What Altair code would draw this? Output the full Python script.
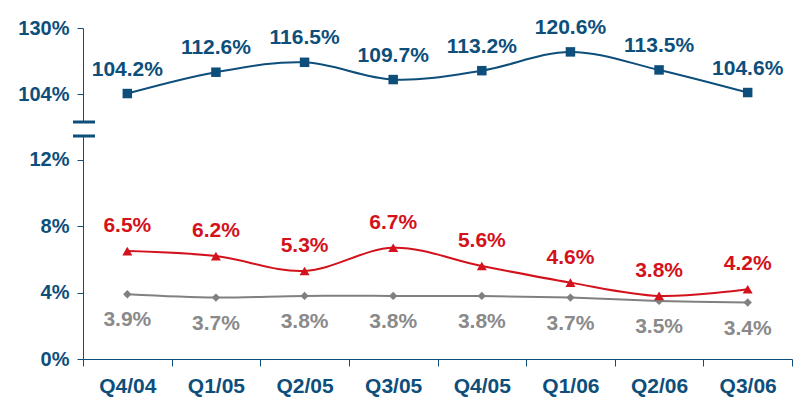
import altair as alt
import pandas as pd

quarters = ["Q4/04", "Q1/05", "Q2/05", "Q3/05", "Q4/05", "Q1/06", "Q2/06", "Q3/06"]
combined_ratio = [104.2, 112.6, 116.5, 109.7, 113.2, 120.6, 113.5, 104.6]
loss_ratio = [6.5, 6.2, 5.3, 6.7, 5.6, 4.6, 3.8, 4.2]
expense_ratio = [3.9, 3.7, 3.8, 3.8, 3.8, 3.7, 3.5, 3.4]
top_ticks = [104, 130]
bottom_ticks = [0, 4, 8, 12]

BLUE = "#0d4e7b"
RED = "#d3121c"
GRAY = "#8a8a8a"
GRAY_LINE = "#808080"
FONT = "Liberation Sans"
W = 709
H_TOP = 94
H_BOT = 223

top_df = pd.DataFrame({"q": quarters, "v": combined_ratio})
red_df = pd.DataFrame({"q": quarters, "v": loss_ratio})
gray_df = pd.DataFrame({"q": quarters, "v": expense_ratio})
one = pd.DataFrame({"d": [0]})

xscale = alt.Scale(type="band", domain=quarters, paddingInner=0, paddingOuter=0)
LAB = "format(datum.v, '.1f') + '%'"


def yaxis(vals):
    return alt.Axis(values=vals, labelExpr="datum.value + '%'", title=None,
                    labelFontSize=20, labelFont=FONT, labelFontWeight="bold",
                    labelColor=BLUE, domainColor=BLUE, tickColor=BLUE,
                    tickSize=6, labelPadding=8, minExtent=66, maxExtent=66, grid=False)


# Top panel (combined ratio)
tb = alt.Chart(top_df).transform_calculate(lab=LAB).encode(
    x=alt.X("q:N", scale=xscale, axis=None, sort=quarters),
    y=alt.Y("v:Q", scale=alt.Scale(domain=[93, 130], zero=False, nice=False), axis=yaxis(top_ticks)),
)
top = alt.layer(
    tb.mark_line(color=BLUE, strokeWidth=2, interpolate="cardinal"),
    tb.mark_point(shape="square", filled=True, size=90, color=BLUE, opacity=1),
    tb.mark_text(dy=-24, fontSize=21, fontWeight="bold", font=FONT, color=BLUE).encode(text="lab:N"),
    alt.Chart(one).mark_rule(color=BLUE, strokeWidth=3).encode(
        x=alt.value(-10), x2=alt.value(12), y=alt.value(H_TOP)),
).properties(width=W, height=H_TOP)

# Bottom panel
xaxis = alt.Axis(title=None, labelFontSize=21, labelFont=FONT, labelFontWeight="bold",
                 labelColor=BLUE, domainColor=BLUE, tickColor=BLUE, tickSize=7,
                 tickBand="extent", labelPadding=9, labelAngle=0)
yb = alt.Y("v:Q", scale=alt.Scale(domain=[0, 13.43], nice=False), axis=yaxis(bottom_ticks))

rb = alt.Chart(red_df).transform_calculate(lab=LAB).encode(
    x=alt.X("q:N", scale=xscale, axis=xaxis, sort=quarters), y=yb)
gb = alt.Chart(gray_df).transform_calculate(lab=LAB).encode(
    x=alt.X("q:N", scale=xscale, axis=xaxis, sort=quarters), y=yb)

bottom = alt.layer(
    gb.mark_line(color=GRAY_LINE, strokeWidth=2, interpolate="cardinal"),
    gb.mark_point(shape="diamond", filled=True, size=70, color=GRAY_LINE, opacity=1),
    gb.mark_text(dy=26, fontSize=21, fontWeight="bold", font=FONT, color=GRAY).encode(text="lab:N"),
    rb.mark_line(color=RED, strokeWidth=2, interpolate="cardinal"),
    rb.mark_point(shape="triangle-up", filled=True, size=100, color=RED, opacity=1),
    rb.mark_text(dy=-25, fontSize=21, fontWeight="bold", font=FONT, color=RED).encode(text="lab:N"),
    alt.Chart(one).mark_rule(color=BLUE, strokeWidth=3).encode(
        x=alt.value(-10), x2=alt.value(12), y=alt.value(0)),
).properties(width=W, height=H_BOT)

chart = alt.vconcat(top, bottom, spacing=14, bounds="flush").properties(
    padding={"left": 9, "top": 8, "right": 5, "bottom": 5},
    background="white",
).configure_view(stroke=None)

chart.save("out.html", embed_options={"renderer": "svg", "actions": False})
